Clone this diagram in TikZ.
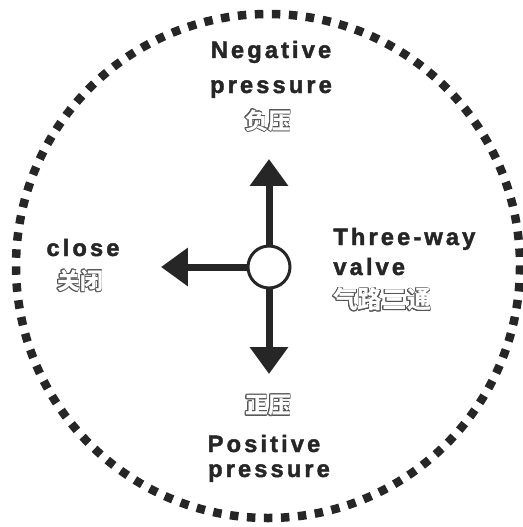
\documentclass[tikz,border=0pt]{standalone}
\usepackage{fontspec}
\usepackage{contour}
\usetikzlibrary{arrows.meta, positioning}
\setmainfont{Liberation Sans}
\newfontfamily\labelfont[LetterSpace=13, BoldFeatures={FakeBold=1.8}]{Liberation Sans}
\newfontfamily\cjkfont{Noto Sans CJK SC}
\definecolor{ink}{RGB}{38,38,38}
\definecolor{rim}{RGB}{85,85,85}
\contourlength{0.45pt}
\newcommand{\hollow}[1]{\contour{rim}{\textcolor{white}{#1}}}

\tikzset{
  eng/.style={font=\labelfont\bfseries\fontsize{13.5}{16}\selectfont,
              text=ink, inner sep=0pt},
  zh/.style={font=\cjkfont\bfseries\fontsize{13}{15}\selectfont,
             inner sep=0pt},
  flow/.style={draw=ink, line width=0.14cm,
               -{Triangle[width=0.74cm, length=0.54cm]}},
}

\begin{document}
\begin{tikzpicture}[x=0.02cm, y=-0.02cm]
    \useasboundingbox (0,0) rectangle (523,527);
    % dotted rim
    \draw[ink, line width=0.17cm, dash pattern=on 0.17cm off 0.1705cm]
      (268,266) circle (252);
    % valve and its three ways
    \coordinate (up) at (269,159);
    \coordinate (left) at (161,267);
    \coordinate (down) at (269,374);
    \node[circle, draw=ink, line width=0.06cm, fill=white,
          minimum size=0.84cm, inner sep=0pt] (valve) at (269,267) {};
    \draw[flow] (valve.north) -- (up);
    \draw[flow] (valve.west) -- (left);
    \draw[flow] (valve.south) -- (down);
    % labels
    \node[eng, anchor=base] (neg1) at (271,58) {Negative};
    \node[eng, anchor=base] (neg2) at (271,93) {pressure};
    \node[zh] (negzh) at (268,121) {\hollow{负压}};
    \node[eng, anchor=base] (close) at (83,256) {close};
    \node[zh] (closezh) at (80,281) {\hollow{关闭}};
    \node[eng, anchor=base west] (three1) at (333,245) {Three-way};
    \node[eng, anchor=base west] (three2) at (333,275) {valve};
    \node[zh, anchor=west, font=\cjkfont\bfseries\fontsize{14}{15}\selectfont]
      (threezh) at (333,300) {\hollow{气路三通}};
    \node[zh] (poszh) at (268,406) {\hollow{正压}};
    \node[eng, anchor=base] (pos1) at (264,452) {Positive};
    \node[eng, anchor=base] (pos2) at (269,477) {pressure};
  \end{tikzpicture}
\end{document}
